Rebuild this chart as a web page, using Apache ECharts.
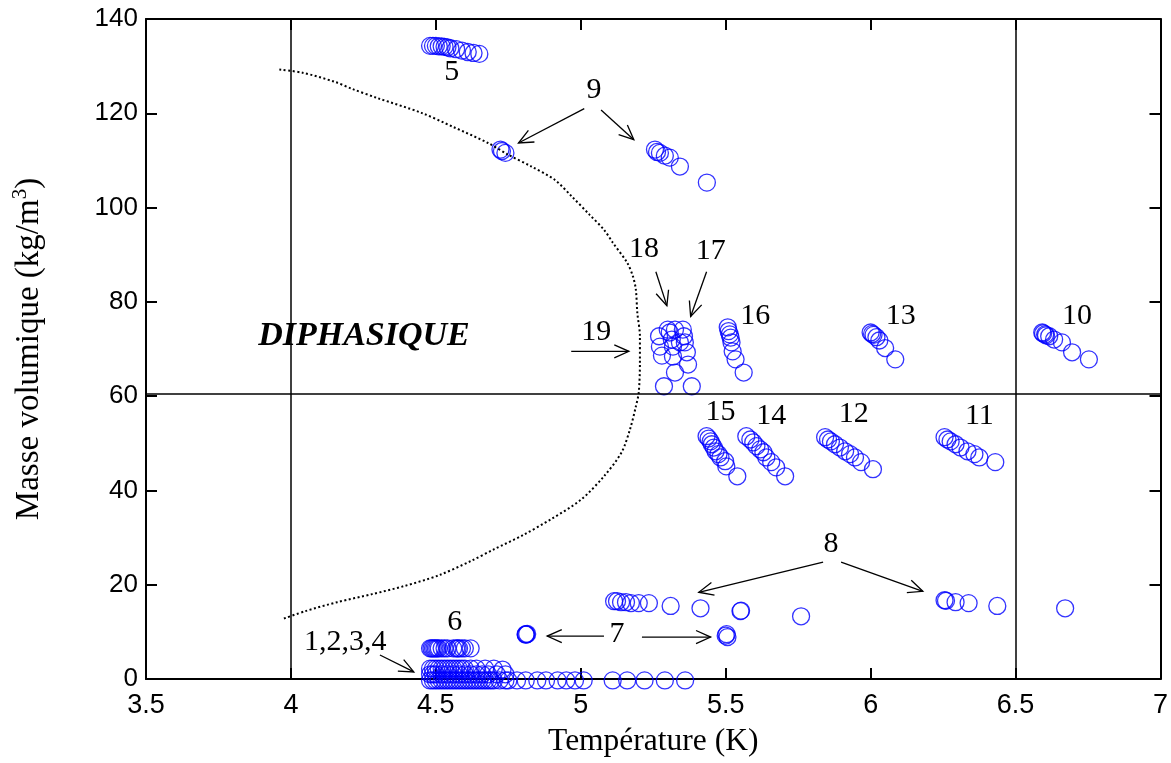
<!DOCTYPE html>
<html>
<head>
<meta charset="utf-8">
<script src="https://cdn.jsdelivr.net/npm/echarts@6/dist/echarts.min.js"></script>
<style>
html,body{margin:0;padding:0;background:#fff;}
#chart{width:1171px;height:763px;}
</style>
</head>
<body>
<div id="chart"></div>
<script>
// ---------- DATA ----------
const xTicks = [3.5, 4, 4.5, 5, 5.5, 6, 6.5, 7];
const yTicks = [0, 20, 40, 60, 80, 100, 120, 140];

// dotted coexistence curve [T (K), rho (kg/m3)]
const coexistenceCurve = [
  [3.96,129.3],[4.04,128.6],[4.15,126.7],[4.21,125.2],[4.30,123.2],[4.45,120.1],
  [4.56,117.1],[4.68,113.7],[4.75,111.2],[4.83,108.7],[4.91,105.9],[4.97,102.3],
  [5.03,98.5],[5.08,95.3],[5.11,92.6],[5.16,88.3],[5.18,85.4],[5.19,82.6],
  [5.195,77.7],[5.204,72.7],[5.204,67.1],[5.20,60.8],[5.19,57.8],[5.17,53.0],
  [5.14,48.0],[5.08,43.0],[5.00,38.0],[4.90,34.0],[4.80,30.5],[4.70,27.5],
  [4.62,25.0],[4.51,22.0],[4.39,19.7],[4.28,18.0],[4.16,16.3],[4.05,14.4],[3.97,12.7]
];

// reference lines
const refLinesT = [4, 6.5];
const refLinesRho = [60.5];

// measurement points, by run
const runs1to4 = [
  [4.48,2.2],[4.49,2.2],[4.50,2.2],[4.51,2.2],[4.52,2.2],[4.53,2.2],[4.54,2.2],[4.55,2.2],
  [4.56,2.2],[4.57,2.2],[4.58,2.2],[4.59,2.2],[4.60,2.2],[4.62,2.2],[4.64,2.2],[4.67,2.2],
  [4.70,2.2],[4.73,2.0],
  [4.48,1.0],[4.49,1.0],[4.50,1.0],[4.52,1.0],[4.54,1.0],[4.56,1.0],[4.58,1.0],[4.60,1.0],
  [4.62,1.0],[4.64,1.0],[4.66,1.0],[4.68,1.0],[4.71,1.0],[4.74,1.0],
  [4.48,-0.3],[4.49,-0.3],[4.50,-0.3],[4.51,-0.3],[4.52,-0.3],[4.53,-0.3],[4.54,-0.3],
  [4.55,-0.3],[4.56,-0.3],[4.57,-0.3],[4.58,-0.3],[4.59,-0.3],[4.60,-0.3],[4.61,-0.3],
  [4.62,-0.3],[4.63,-0.3],[4.64,-0.3],[4.65,-0.3],[4.66,-0.3],[4.67,-0.3],[4.68,-0.3],
  [4.69,-0.3],[4.70,-0.3],[4.72,-0.3],[4.74,-0.3],[4.75,-0.3],[4.78,-0.3],[4.81,-0.3],
  [4.85,-0.3],[4.88,-0.3],[4.92,-0.3],[4.95,-0.3],[4.98,-0.3],[5.01,-0.3],
  [5.11,-0.3],[5.16,-0.3],[5.22,-0.3],[5.29,-0.3],[5.36,-0.3]
];
const run5 = [[4.48,134.3],[4.49,134.3],[4.50,134.3],[4.51,134.2],[4.52,134.2],[4.53,134.1],
  [4.54,134.0],[4.55,133.8],[4.57,133.6],[4.59,133.3],[4.61,133.0],[4.63,132.8],[4.65,132.6]];
const run6 = [[4.48,6.5],[4.485,6.5],[4.49,6.5],[4.495,6.5],[4.50,6.5],[4.505,6.5],[4.51,6.5],
  [4.52,6.5],[4.53,6.5],[4.54,6.5],[4.56,6.5],[4.57,6.5],[4.575,6.5],[4.58,6.5],[4.59,6.5],
  [4.60,6.5],[4.62,6.5]];
const run7 = [[4.81,9.5],[4.812,9.45],[4.815,9.55],[4.81,9.4],[5.503,9.5],[5.506,8.9],[5.50,9.2]];
const run8 = [[5.115,16.5],[5.125,16.5],[5.139,16.3],[5.156,16.3],[5.173,16.1],[5.200,16.1],
  [5.235,16.1],[5.310,15.5],[5.413,15.0],[5.551,14.4],[5.553,14.5],[5.760,13.3],
  [6.255,16.7],[6.260,16.6],[6.293,16.3],[6.338,16.1],[6.437,15.5],[6.671,15.0]];
const run9 = [[4.723,112.3],[4.740,111.6],[4.728,112.0],
  [5.256,112.3],[5.263,111.8],[5.273,111.6],[5.290,111.0],[5.307,110.6],[5.342,108.7],[5.435,105.3]];
const run10 = [[6.592,73.5],[6.595,73.3],[6.602,73.1],[6.605,72.9],[6.616,72.7],[6.633,72.0],
  [6.660,71.4],[6.695,69.3],[6.753,67.8]];
const run11 = [[6.255,51.3],[6.265,50.8],[6.276,50.4],[6.293,49.8],[6.310,49.1],[6.334,48.3],
  [6.358,47.7],[6.375,47.0],[6.430,46.0]];
const run12 = [[5.843,51.3],[5.853,50.8],[5.863,50.4],[5.877,49.8],[5.894,49.1],[5.912,48.3],
  [5.929,47.7],[5.946,47.0],[5.967,46.0],[6.008,44.5]];
const run13 = [[6.000,73.5],[6.005,73.2],[6.010,73.0],[6.020,72.5],[6.030,71.8],[6.050,70.2],[6.085,67.8]];
const run14 = [[5.571,51.5],[5.585,50.8],[5.595,50.2],[5.606,49.4],[5.619,48.7],[5.630,48.1],
  [5.640,47.0],[5.657,46.0],[5.674,44.9],[5.705,43.0]];
const run15 = [[5.434,51.5],[5.441,51.0],[5.448,50.4],[5.452,49.8],[5.459,49.1],[5.465,48.3],
  [5.475,47.7],[5.482,47.0],[5.498,46.2],[5.502,45.1],[5.540,43.0]];
const run16 = [[5.507,74.6],[5.510,73.8],[5.514,73.1],[5.517,72.4],[5.520,71.4],[5.524,69.5],
  [5.534,67.8],[5.562,65.0]];
const runs17to19 = [[5.270,72.7],[5.273,70.5],[5.280,68.6],[5.287,62.1],[5.300,74.1],[5.307,73.5],
  [5.314,72.0],[5.318,70.5],[5.318,68.4],[5.325,65.0],[5.325,74.1],[5.352,74.1],[5.356,72.7],
  [5.359,71.4],[5.366,69.3],[5.370,66.7],[5.383,62.1],[5.342,71.4]];

// annotation texts and their anchor (data coords)
const labelTexts = ['5','9','18','17','19','16','13','10','15','14','12','11','8','7','6','1,2,3,4'];
const labelT     = [4.555,5.046,5.218,5.448,5.053,5.602,6.104,6.712,5.482,5.657,5.942,6.375,5.863,5.125,4.565,4.187];
const labelRho   = [128.8,125.0,91.1,90.7,73.5,76.9,76.9,76.9,56.6,55.7,56.1,55.7,28.6,9.5,12.1,7.8];
const regionLabel = {text:'DIPHASIQUE', t:4.252, rho:72.7};

// arrows: [T start, rho start, T end, rho end]
const arrows = [
  [5.012,121.0,4.785,113.7],[5.070,120.7,5.183,114.4],
  [5.259,86.4,5.297,79.2],[5.434,86.4,5.379,76.9],
  [4.967,69.5,5.166,69.5],
  [5.836,24.8,5.407,18.4],[5.898,24.8,6.180,18.6],
  [5.080,9.1,4.884,9.1],[5.211,8.9,5.448,8.9],
  [4.307,5.1,4.424,1.5]
];

// ---------- CHART ----------
const allPoints = [].concat(runs1to4, run5, run6, run7, run8, run9, run10, run11, run12,
  run13, run14, run15, run16, runs17to19);

const serif = '"Liberation Serif","Times New Roman",serif';
const sans = '"Liberation Sans",Arial,Helvetica,sans-serif';

const chart = echarts.init(document.getElementById('chart'), null, {renderer:'canvas'});

const axisCommon = {
  type:'value',
  axisLine:{show:true, onZero:false, lineStyle:{color:'#000', width:2}},
  axisTick:{show:true, inside:true, length:11, lineStyle:{color:'#000', width:2}},
  splitLine:{show:false}
};

chart.setOption({
  animation:false,
  backgroundColor:'#fff',
  grid:{left:145, right:7, top:19, bottom:83, containLabel:false},
  xAxis:[
    Object.assign({}, axisCommon, {
      min:xTicks[0], max:xTicks[xTicks.length-1], interval:0.5, position:'bottom',
      axisLabel:{show:true, color:'#000', fontFamily:sans, fontSize:27, margin:13,
        showMinLabel:true, showMaxLabel:true},
      name:'Température (K)', nameLocation:'middle', nameGap:47,
      nameTextStyle:{color:'#000', fontFamily:serif, fontSize:31.5}
    }),
    Object.assign({}, axisCommon, {
      min:xTicks[0], max:xTicks[xTicks.length-1], interval:0.5, position:'top',
      axisLabel:{show:false}
    })
  ],
  yAxis:[
    Object.assign({}, axisCommon, {
      min:yTicks[0], max:yTicks[yTicks.length-1], interval:20, position:'left',
      axisLabel:{show:true, color:'#000', fontFamily:sans, fontSize:26, margin:8},
      name:'{n|Masse volumique (kg/m}{s|3}{n|)}', nameLocation:'middle', nameGap:100, nameRotate:90,
      nameTextStyle:{color:'#000', fontFamily:serif, fontSize:33,
        rich:{
          n:{fontFamily:serif, fontSize:33, color:'#000', lineHeight:38, verticalAlign:'bottom'},
          s:{fontFamily:serif, fontSize:21, color:'#000', lineHeight:38, verticalAlign:'top', padding:[2,0,0,0]}
        }}
    }),
    Object.assign({}, axisCommon, {
      min:yTicks[0], max:yTicks[yTicks.length-1], interval:20, position:'right',
      axisLabel:{show:false}
    })
  ],
  series:[
    {
      type:'line', xAxisIndex:0, yAxisIndex:0,
      data:coexistenceCurve, showSymbol:false, smooth:0.3, silent:true,
      lineStyle:{color:'#000', width:2, type:[2,2.5]},
      markLine:{
        silent:true, symbol:'none', animation:false,
        label:{show:false},
        lineStyle:{color:'#000', width:1.5, type:'solid'},
        emphasis:{disabled:true},
        data: refLinesT.map(v => ({xAxis:v})).concat(refLinesRho.map(v => ({yAxis:v})))
      }
    },
    {
      type:'scatter', xAxisIndex:0, yAxisIndex:0, clip:false,
      data:allPoints, symbol:'circle', symbolSize:17,
      itemStyle:{color:'rgba(0,0,0,0)', borderColor:'#0000ff', borderWidth:1.3},
      emphasis:{disabled:true}
    },
    {
      type:'custom', xAxisIndex:0, yAxisIndex:0, clip:false, silent:true,
      data: arrows,
      encode:{x:[0,2], y:[1,3]},
      renderItem:function(params, api){
        const p1 = api.coord([api.value(0), api.value(1)]);
        const p2 = api.coord([api.value(2), api.value(3)]);
        const ang = Math.atan2(p2[1]-p1[1], p2[0]-p1[0]);
        const L = 16, a = 0.42;
        const h1 = [p2[0]-L*Math.cos(ang-a), p2[1]-L*Math.sin(ang-a)];
        const h2 = [p2[0]-L*Math.cos(ang+a), p2[1]-L*Math.sin(ang+a)];
        return {type:'group', children:[
          {type:'line', shape:{x1:p1[0], y1:p1[1], x2:p2[0], y2:p2[1]}, style:{stroke:'#000', lineWidth:1.3}},
          {type:'polyline', shape:{points:[h1, p2, h2]}, style:{stroke:'#000', lineWidth:1.3, fill:null}}
        ]};
      }
    },
    {
      type:'custom', xAxisIndex:0, yAxisIndex:0, clip:false, silent:true,
      data: labelTexts.map((t,i) => [labelT[i], labelRho[i]]),
      encode:{x:0, y:1},
      renderItem:function(params, api){
        const p = api.coord([api.value(0), api.value(1)]);
        return {type:'text', x:p[0], y:p[1], style:{
          text:labelTexts[params.dataIndex], fill:'#000', fontFamily:serif, fontSize:30,
          align:'center', verticalAlign:'middle'}};
      }
    },
    {
      type:'custom', xAxisIndex:0, yAxisIndex:0, clip:false, silent:true,
      data: [[regionLabel.t, regionLabel.rho]],
      encode:{x:0, y:1},
      renderItem:function(params, api){
        const p = api.coord([api.value(0), api.value(1)]);
        return {type:'text', x:p[0], y:p[1], style:{
          text:regionLabel.text, fill:'#000', fontFamily:serif, fontSize:34,
          fontWeight:'bold', fontStyle:'italic', align:'center', verticalAlign:'middle'}};
      }
    }
  ]
});
</script>
</body>
</html>
